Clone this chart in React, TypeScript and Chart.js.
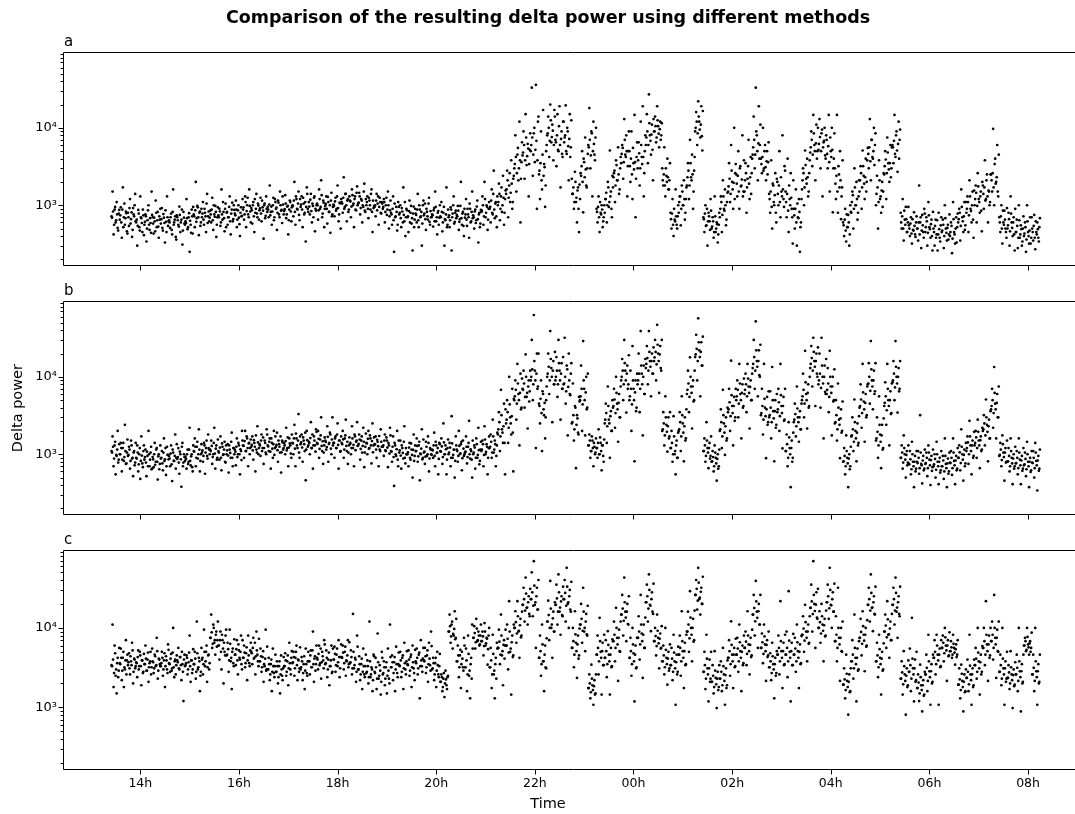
import React, { useEffect, useRef } from "react";
import { Chart, registerables } from "chart.js";

Chart.register(...registerables);

// Recording starts at 13:25. Each series holds one value every 1.25 minutes;
// the second series of a panel is sampled half an epoch later (interleaved epochs).
const START_HOUR = 13 + 25 / 60;
const EPOCH_MINUTES = 1.25;

// Panel a, epochs 1
const deltaA1 = [
  720, 1500, 420, 880, 600, 1100, 510, 780,
  650, 940, 380, 1700, 700, 560, 830, 460,
  800, 540, 1200, 660, 390, 920, 720, 1400,
  600, 300, 870, 520, 1300, 680, 450, 740,
  560, 760, 340, 640, 1000, 480, 590, 1500,
  700, 430, 620, 1150, 520, 820, 380, 650,
  580, 920, 470, 690, 330, 610, 1300, 540,
  640, 510, 780, 420, 1600, 600, 720, 360,
  700, 560, 960, 450, 650, 310, 820, 580,
  620, 1200, 490, 700, 250, 560, 880, 430,
  760, 520, 2000, 680, 940, 410, 830, 600,
  700, 1100, 560, 800, 450, 1400, 720, 620,
  850, 600, 1250, 480, 760, 980, 390, 700,
  740, 900, 540, 1600, 650, 820, 460, 1050,
  800, 560, 700, 1300, 420, 880, 620, 1000,
  780, 1150, 520, 860, 690, 400, 940, 730,
  880, 650, 1300, 520, 1000, 760, 1600, 830,
  920, 580, 1100, 450, 800, 1400, 700, 990,
  860, 1250, 620, 940, 370, 1050, 730, 900,
  950, 700, 1800, 820, 560, 1000, 640, 1200,
  900, 480, 1150, 760, 1500, 850, 590, 1020,
  840, 1350, 680, 960, 420, 880, 1100, 620,
  1000, 720, 2000, 560, 1200, 880, 1500, 640,
  950, 1300, 520, 1050, 800, 340, 1700, 900,
  1100, 760, 1400, 600, 980, 1250, 460, 850,
  1050, 650, 1600, 900, 2100, 700, 1150, 520,
  980, 1300, 580, 1100, 820, 440, 1450, 760,
  1020, 720, 1250, 900, 1800, 620, 1080, 500,
  1100, 800, 2300, 950, 1400, 620, 1200, 880,
  1150, 700, 1600, 1000, 520, 1300, 860, 1750,
  1050, 1450, 760, 1200, 600, 950, 1900, 820,
  1000, 1300, 680, 1150, 880, 1600, 450, 920,
  950, 720, 1400, 1050, 560, 1250, 800, 1100,
  900, 1200, 600, 1000, 750, 1500, 500, 860,
  800, 560, 1300, 250, 700, 950, 470, 1100,
  760, 1000, 520, 830, 1700, 620, 400, 900,
  700, 450, 1150, 800, 580, 260, 960, 650,
  780, 600, 1400, 520, 880, 720, 300, 1000,
  740, 1050, 480, 820, 650, 1250, 560, 700,
  760, 530, 920, 1500, 620, 420, 840, 690,
  720, 1100, 460, 800, 300, 640, 1700, 560,
  700, 520, 940, 260, 780, 1300, 610, 850,
  750, 980, 480, 660, 2000, 560, 820, 400,
  690, 1200, 540, 760, 380, 900, 620, 1500,
  740, 500, 880, 640, 1150, 330, 800, 580,
  820, 1300, 560, 2000, 700, 1000, 480, 900,
  900, 600, 1600, 760, 2800, 680, 1100, 520,
  1000, 1900, 640, 1300, 820, 2400, 560, 1200,
  1400, 2800, 700, 1800, 1100, 3800, 900, 2200,
  3000, 8000, 1500, 4500, 2100, 12000, 600, 3600,
  4400, 9000, 2200, 15000, 3300, 6200, 1300, 5200,
  5000, 33000, 2400, 8500, 3600, 36000, 900, 12000,
  2500, 1200, 9000, 1600, 17000, 3400, 950, 5000,
  8000, 14000, 4200, 20000, 6500, 11000, 3800, 17000,
  7000, 3200, 15000, 5000, 19000, 1700, 9000, 4200,
  12000, 7500, 19500, 4600, 9000, 2100, 15000, 5600,
  2200, 1400, 900, 2700, 1100, 600, 1700, 450,
  1200, 2400, 5000, 810, 3600, 7500, 1800, 3000,
  6000, 18000, 3000, 9000, 1300, 12000, 4500, 7500,
  900, 600, 1300, 450, 800, 1000, 520, 700,
  800, 1200, 600, 2000, 950, 5100, 1500, 700,
  1700, 2600, 1100, 3800, 2100, 5600, 1400, 3000,
  3500, 6000, 2200, 13000, 4500, 8000, 1300, 5000,
  5000, 2000, 9000, 1200, 3500, 14700, 700, 4200,
  3000, 6500, 1800, 12000, 4200, 19000, 1300, 5000,
  6000, 15000, 3500, 27000, 8000, 4500, 11000, 2100,
  9000, 14000, 6500, 19000, 10500, 5600, 12000, 8000,
  3000, 1800, 5600, 1300, 2400, 4000, 1600, 2100,
  800, 500, 1200, 400, 650, 1600, 560, 720,
  800, 1300, 550, 1800, 1000, 2100, 650, 1200,
  1800, 3500, 1200, 7000, 2300, 4500, 900, 2800,
  9000, 16000, 6000, 22000, 12000, 7500, 19000, 5100,
  700, 450, 1000, 550, 300, 800, 620, 1200,
  500, 700, 380, 1300, 450, 600, 330, 560,
  700, 1300, 450, 2100, 900, 1600, 550, 1100,
  1500, 3500, 1100, 6000, 2000, 900, 10000, 2600,
  2500, 1300, 5000, 900, 3200, 1800, 8000, 1500,
  1500, 3500, 800, 2200, 7000, 1200, 4200, 2600,
  4500, 14000, 3000, 33000, 8000, 2100, 19000, 6000,
  4000, 2600, 10000, 3000, 6000, 2100, 5000, 3600,
  1400, 800, 3800, 500, 1800, 1000, 2600, 600,
  2000, 1000, 5000, 700, 1500, 8000, 1200, 3200,
  1500, 700, 4000, 450, 1200, 2600, 900, 320,
  900, 500, 1600, 300, 700, 1200, 250, 600,
  1600, 3000, 1000, 5100, 2200, 4000, 1300, 2600,
  4800, 9000, 3200, 14700, 6000, 2100, 11000, 5000,
  5200, 13000, 3000, 8500, 1300, 6500, 10000, 4000,
  7000, 3000, 14700, 1500, 5000, 10000, 810, 4000,
  3000, 1200, 14700, 800, 2500, 5000, 660, 1700,
  600, 400, 900, 340, 520, 750, 300, 1000,
  800, 1500, 500, 3000, 1000, 2000, 650, 1300,
  1500, 3200, 900, 5100, 2400, 1200, 4000, 2000,
  5500, 3000, 13000, 2100, 7000, 4000, 10000, 6000,
  1000, 2400, 500, 3800, 1200, 800, 2000, 1500,
  2500, 5000, 1200, 7500, 3500, 2000, 6000, 3000,
  6000, 3500, 14700, 4200, 9000, 2700, 12000, 7000,
  800, 500, 1200, 350, 650, 950, 450, 600,
  550, 400, 700, 320, 480, 810, 420, 600,
  500, 350, 1800, 600, 280, 750, 450, 900,
  450, 700, 300, 1100, 520, 380, 650, 260,
  500, 300, 650, 420, 260, 800, 380, 550,
  450, 650, 280, 1000, 500, 350, 560, 420,
  400, 600, 240, 1100, 450, 320, 700, 520,
  600, 900, 350, 1600, 700, 450, 1100, 550,
  800, 1300, 450, 2100, 900, 600, 1500, 380,
  1000, 1800, 600, 2600, 1200, 800, 1500, 460,
  1800, 900, 3800, 1200, 2500, 600, 1500, 1100,
  2500, 1500, 9700, 1000, 4000, 2000, 6000, 1300,
  700, 450, 1000, 320, 600, 850, 500, 380,
  500, 800, 300, 1300, 600, 400, 700, 260,
  450, 650, 280, 1000, 380, 550, 300, 500,
  400, 600, 250, 1000, 450, 320, 700, 380,
  500, 350, 750, 270, 450, 600, 380, 520,
];

// Panel a, epochs 2
const deltaA2 = [
  690, 830, 560, 950, 640, 760, 470, 870,
  740, 600, 880, 520, 1050, 680, 790, 430,
  700, 920, 580, 810, 480, 760, 1000, 620,
  650, 540, 780, 470, 700, 590, 880, 410,
  610, 720, 500, 860, 560, 680, 440, 750,
  580, 690, 460, 800, 640, 530, 720, 900,
  660, 510, 770, 590, 860, 450, 700, 620,
  600, 700, 480, 820, 560, 650, 390, 740,
  640, 530, 750, 600, 880, 470, 690, 560,
  590, 680, 520, 790, 630, 440, 720, 950,
  720, 860, 610, 980, 700, 800, 540, 900,
  780, 650, 900, 720, 1050, 590, 830, 690,
  760, 880, 640, 1000, 710, 820, 560, 940,
  700, 830, 600, 760, 1100, 680, 900, 520,
  820, 700, 950, 620, 780, 1080, 660, 870,
  740, 880, 650, 1000, 570, 800, 720, 1200,
  940, 760, 1100, 840, 1250, 700, 980, 600,
  860, 1000, 720, 1200, 900, 780, 1050, 650,
  910, 780, 1150, 850, 1000, 680, 1300, 820,
  880, 1020, 740, 960, 830, 1250, 700, 1100,
  930, 800, 1080, 700, 1000, 870, 1300, 760,
  890, 1050, 760, 980, 640, 1150, 830, 940,
  980, 1150, 820, 1300, 900, 1050, 750, 1200,
  1020, 880, 1250, 760, 1100, 950, 1400, 820,
  960, 1180, 840, 1050, 700, 1300, 900, 1000,
  1000, 860, 1200, 950, 1350, 780, 1080, 900,
  1040, 900, 1280, 820, 1000, 1150, 720, 950,
  980, 1120, 850, 1300, 920, 760, 1060, 1200,
  1050, 1250, 900, 1400, 1000, 1150, 820, 1300,
  1120, 960, 1350, 1050, 1200, 880, 1450, 1000,
  1080, 1300, 920, 1150, 1000, 1500, 850, 1200,
  1100, 900, 1250, 1000, 1400, 820, 1150, 980,
  1000, 1150, 860, 1300, 950, 1100, 780, 1050,
  950, 1100, 820, 1250, 880, 1000, 720, 1150,
  760, 900, 640, 1050, 720, 820, 560, 950,
  800, 680, 920, 600, 750, 1100, 700, 860,
  720, 840, 600, 980, 680, 780, 520, 900,
  750, 880, 640, 1000, 700, 820, 580, 1150,
  780, 660, 900, 720, 1050, 610, 840, 700,
  740, 860, 620, 950, 700, 800, 560, 1000,
  700, 820, 600, 950, 660, 760, 520, 880,
  740, 640, 880, 700, 1000, 580, 800, 680,
  720, 850, 610, 980, 680, 780, 540, 900,
  760, 650, 900, 700, 1050, 600, 820, 680,
  700, 830, 590, 960, 660, 760, 520, 870,
  850, 1000, 720, 1200, 800, 950, 650, 1100,
  950, 1150, 800, 1400, 880, 1050, 720, 1300,
  1100, 1400, 900, 1700, 1000, 1250, 800, 1550,
  1600, 2100, 1250, 2600, 1450, 1900, 1100, 2400,
  3400, 4200, 2600, 5500, 3000, 3800, 2200, 6500,
  4800, 6000, 3800, 7500, 4300, 5400, 3400, 8500,
  6000, 7500, 4500, 10000, 5200, 6800, 3800, 14000,
  2800, 3500, 2100, 4500, 2400, 3100, 1800, 6000,
  8500, 10000, 6800, 12500, 7600, 9200, 6000, 14000,
  6500, 8000, 5200, 10500, 6000, 7200, 4600, 12000,
  6500, 8000, 5000, 10000, 5800, 7200, 4200, 12500,
  1400, 1700, 1100, 2000, 1250, 1550, 900, 1850,
  2600, 3200, 2000, 4000, 2300, 2900, 1700, 4600,
  5600, 7000, 4400, 8500, 5000, 6200, 3800, 10000,
  820, 950, 700, 1100, 760, 880, 620, 1000,
  1200, 1450, 1000, 1700, 1100, 1300, 900, 2400,
  2300, 2800, 1800, 3300, 2100, 2500, 1600, 4200,
  4600, 5500, 3600, 7000, 4200, 5000, 3200, 9000,
  3200, 4000, 2500, 5500, 2900, 3600, 2200, 6500,
  3800, 4700, 3000, 6000, 3400, 4200, 2600, 8000,
  7500, 9000, 6000, 11500, 6800, 8200, 5200, 13000,
  9000, 10500, 7500, 12500, 8400, 9600, 7000, 11500,
  2100, 2500, 1800, 3000, 2000, 2300, 1600, 3500,
  660, 780, 560, 900, 620, 720, 500, 1000,
  1100, 1300, 900, 1500, 1000, 1200, 800, 1700,
  2300, 2800, 1800, 3500, 2100, 2500, 1500, 4200,
  10000, 12000, 8500, 14000, 9500, 11000, 7800, 16500,
  660, 780, 540, 900, 620, 720, 480, 850,
  530, 620, 450, 720, 500, 570, 420, 800,
  900, 1100, 750, 1300, 850, 1000, 650, 1450,
  1750, 2200, 1400, 2800, 1600, 1950, 1200, 3400,
  1900, 2400, 1500, 3000, 1750, 2150, 1300, 3800,
  2100, 2600, 1700, 3200, 1900, 2300, 1400, 4000,
  5600, 7000, 4500, 9000, 5000, 6300, 4000, 11000,
  3400, 4200, 2800, 5000, 3100, 3700, 2500, 6500,
  1200, 1500, 950, 1900, 1100, 1350, 800, 2200,
  1400, 1800, 1100, 2300, 1300, 1600, 950, 2800,
  1100, 1400, 850, 1800, 1000, 1250, 700, 2100,
  740, 900, 600, 1050, 680, 820, 520, 1200,
  2100, 2600, 1700, 3300, 1900, 2300, 1500, 3800,
  5600, 7000, 4500, 8500, 5000, 6300, 4000, 10000,
  6200, 7600, 5000, 9500, 5600, 6800, 4400, 8000,
  4600, 5800, 3600, 7500, 4200, 5200, 3000, 8500,
  1900, 2400, 1500, 3200, 1700, 2100, 1300, 3800,
  550, 650, 470, 760, 520, 600, 420, 820,
  1100, 1350, 900, 1700, 1000, 1200, 800, 2100,
  2100, 2600, 1700, 3200, 1900, 2300, 1500, 3800,
  4600, 5600, 3700, 7000, 4200, 5000, 3300, 8500,
  1400, 1700, 1100, 2100, 1300, 1550, 950, 2600,
  3200, 3900, 2600, 4800, 2900, 3500, 2300, 5600,
  5600, 6800, 4600, 8000, 5100, 6200, 4000, 9500,
  600, 720, 500, 850, 560, 660, 450, 950,
  500, 580, 430, 660, 470, 540, 390, 720,
  500, 600, 420, 700, 470, 550, 380, 780,
  520, 620, 440, 740, 490, 570, 400, 820,
  450, 540, 380, 640, 420, 490, 340, 700,
  470, 560, 400, 680, 440, 510, 360, 760,
  450, 540, 370, 660, 420, 500, 330, 780,
  660, 800, 540, 950, 620, 720, 480, 1100,
  900, 1100, 740, 1300, 840, 1000, 650, 1550,
  1200, 1450, 980, 1750, 1100, 1300, 850, 2000,
  1400, 1700, 1150, 2100, 1300, 1550, 1000, 2500,
  2100, 2600, 1700, 3400, 1900, 2300, 1500, 4500,
  600, 720, 500, 850, 560, 650, 450, 920,
  550, 660, 460, 780, 510, 600, 420, 900,
  450, 540, 380, 640, 420, 490, 340, 720,
  430, 520, 360, 620, 400, 470, 320, 700,
  450, 540, 380, 620, 420, 490, 340, 680,
];

// Panel b, epochs 1
const deltaB1 = [
  1100, 1700, 700, 1300, 550, 950, 2000, 850,
  1000, 1400, 600, 1200, 820, 2400, 750, 1050,
  950, 1250, 650, 1500, 880, 520, 1100, 780,
  900, 1300, 600, 1000, 480, 1700, 760, 1100,
  850, 1150, 520, 950, 2000, 700, 1050, 640,
  920, 680, 1400, 800, 1200, 470, 1000, 750,
  880, 1100, 620, 1600, 860, 540, 1250, 980,
  950, 700, 1300, 450, 1050, 820, 1800, 900,
  870, 1200, 560, 1000, 380, 1400, 780, 920,
  930, 650, 1150, 800, 2200, 720, 1000, 600,
  1100, 1600, 700, 1250, 880, 2100, 600, 1000,
  1050, 800, 1400, 560, 1200, 950, 1800, 1150,
  1150, 1500, 750, 1000, 2200, 650, 1300, 900,
  1100, 850, 1700, 620, 1250, 1000, 1450, 780,
  1000, 1350, 580, 1150, 900, 1900, 700, 1200,
  1150, 720, 1600, 1000, 1300, 550, 1100, 2000,
  1300, 900, 2000, 1100, 1600, 700, 1400, 1200,
  1250, 1700, 850, 1400, 600, 1150, 2300, 1000,
  1350, 950, 1800, 1200, 750, 1500, 1050, 2100,
  1300, 1100, 1600, 650, 1400, 900, 2000, 1200,
  1250, 1900, 800, 1350, 1050, 580, 1500, 1150,
  1400, 1000, 2200, 1200, 700, 1600, 1300, 900,
  1400, 1000, 2400, 700, 1600, 1200, 3300, 900,
  1350, 1800, 800, 1500, 1100, 460, 2000, 1250,
  1450, 1000, 2600, 1200, 650, 1700, 1300, 2100,
  1400, 2000, 900, 1550, 3000, 1100, 750, 1300,
  1500, 1150, 2300, 800, 1400, 1800, 1000, 3000,
  1400, 900, 1700, 1200, 2500, 650, 1500, 1100,
  1400, 2000, 900, 1600, 2800, 1100, 750, 1300,
  1350, 1000, 2300, 1200, 700, 1700, 1450, 2600,
  1300, 1800, 850, 1500, 1050, 2200, 680, 1250,
  1400, 1000, 2000, 1200, 1600, 760, 2500, 1300,
  1350, 1700, 900, 1450, 700, 1150, 2100, 1250,
  1250, 950, 1800, 1100, 1500, 680, 1300, 2200,
  1100, 800, 1700, 390, 1300, 950, 2000, 700,
  1050, 1500, 650, 1200, 880, 2300, 760, 1000,
  1000, 700, 1400, 850, 1150, 500, 1800, 950,
  1100, 1600, 800, 1300, 460, 1000, 2100, 900,
  1050, 750, 1450, 950, 1700, 600, 1200, 1000,
  1150, 900, 1900, 700, 1300, 1050, 550, 1400,
  1100, 1600, 750, 2500, 1000, 1300, 550, 1200,
  1000, 1400, 700, 3100, 900, 1150, 500, 1700,
  1150, 800, 2000, 1000, 1350, 620, 1500, 950,
  1050, 1700, 760, 1250, 2700, 880, 1100, 500,
  1000, 1300, 650, 1600, 900, 2200, 740, 1150,
  1100, 1500, 700, 2300, 1000, 1350, 550, 1200,
  1200, 1800, 900, 2800, 1050, 1500, 700, 1300,
  1800, 3500, 1100, 6800, 2100, 1400, 4500, 550,
  2500, 5000, 1400, 10000, 3000, 1800, 7000, 600,
  5000, 9000, 2800, 14700, 6000, 1300, 11000, 4000,
  7000, 12000, 4000, 19500, 5500, 2150, 9000, 6500,
  9000, 30000, 5000, 63000, 12000, 1200, 20000, 7500,
  4500, 2500, 9000, 1100, 6000, 3200, 1600, 5000,
  10000, 20000, 6000, 39000, 13000, 2600, 16000, 8000,
  9000, 18000, 5500, 30000, 12000, 2800, 15000, 7000,
  8000, 32000, 4500, 14000, 1750, 20000, 6000, 11000,
  2500, 8200, 1500, 4200, 660, 3200, 1900, 5500,
  5000, 14000, 2000, 29000, 7000, 1750, 10000, 4000,
  1300, 1800, 900, 1100, 1500, 700, 1250, 1050,
  1200, 900, 2100, 1000, 1400, 620, 1300, 800,
  2500, 4500, 1400, 7500, 2800, 900, 3600, 2000,
  4000, 7000, 2200, 10000, 4500, 1450, 6000, 3000,
  9000, 17000, 5000, 30000, 12000, 3450, 14000, 8000,
  5000, 12000, 2000, 25000, 7000, 810, 9000, 4000,
  8000, 20000, 3500, 39000, 11000, 1750, 14000, 6000,
  13000, 25000, 8000, 39000, 16000, 5600, 20000, 11000,
  16000, 30000, 9000, 47000, 20000, 6200, 25000, 12000,
  2000, 3500, 1300, 5600, 2400, 1080, 3000, 1700,
  1200, 2000, 800, 3100, 1000, 550, 1500, 900,
  2000, 3500, 1100, 5600, 2500, 810, 3000, 1600,
  6000, 12000, 3500, 17900, 7500, 2150, 9000, 5000,
  18000, 35000, 9000, 57000, 22000, 5600, 28000, 14000,
  1100, 1600, 800, 2600, 1200, 660, 1400, 950,
  800, 1100, 600, 1300, 900, 455, 1000, 700,
  2000, 3800, 1200, 6800, 2500, 980, 3000, 1600,
  3500, 7000, 2000, 16200, 4200, 1300, 5500, 3000,
  5000, 9000, 3000, 14700, 6000, 1600, 8000, 4200,
  6000, 11000, 3500, 14700, 7500, 2150, 9000, 5000,
  13000, 30000, 7000, 52000, 16000, 5600, 22000, 10000,
  3200, 7000, 1800, 14700, 4000, 890, 5500, 2600,
  3000, 6500, 1600, 13400, 3600, 810, 5000, 2400,
  3500, 7000, 2000, 14700, 4200, 1190, 5500, 2800,
  1100, 1800, 700, 2600, 1200, 375, 1500, 900,
  2600, 4500, 1700, 7500, 3000, 1450, 3600, 2100,
  5000, 11000, 3000, 21700, 6000, 2150, 8000, 4200,
  13000, 25000, 7500, 32000, 16000, 4200, 20000, 10000,
  8000, 20000, 4000, 32000, 10000, 1600, 14000, 6000,
  6000, 13000, 3500, 21700, 7500, 1750, 10000, 5000,
  2500, 5000, 1500, 8200, 2800, 890, 3800, 2000,
  800, 1200, 550, 1750, 900, 375, 1000, 700,
  1700, 3000, 1100, 5100, 2000, 810, 2500, 1400,
  4000, 8000, 2200, 14700, 4800, 1450, 6000, 3200,
  8000, 15000, 4500, 29000, 9000, 3800, 12000, 6500,
  1500, 3000, 900, 5600, 1800, 660, 2400, 1200,
  4200, 8500, 2400, 14700, 5000, 1300, 6500, 3400,
  8500, 16000, 5000, 29000, 10000, 3450, 13000, 7000,
  900, 1300, 650, 1750, 1000, 500, 1100, 780,
  750, 1100, 550, 1450, 800, 375, 950, 650,
  800, 1100, 560, 3200, 750, 420, 950, 650,
  750, 1050, 520, 1300, 850, 400, 950, 680,
  700, 1000, 500, 1450, 800, 410, 900, 620,
  700, 950, 480, 1600, 750, 375, 880, 600,
  780, 1100, 540, 1600, 820, 410, 950, 650,
  900, 1300, 620, 2100, 1000, 455, 1150, 760,
  1100, 1700, 750, 2700, 1300, 550, 1500, 950,
  1300, 2000, 900, 2800, 1500, 660, 1700, 1150,
  2000, 3200, 1300, 5100, 2400, 810, 2800, 1600,
  3800, 7000, 2200, 13400, 4500, 1600, 6000, 3000,
  950, 1400, 700, 1750, 1050, 455, 1200, 800,
  800, 1200, 600, 1600, 900, 410, 1000, 700,
  760, 1100, 550, 1600, 850, 410, 950, 650,
  720, 1050, 520, 1450, 800, 375, 900, 620,
  780, 1100, 500, 1400, 820, 340, 950, 650,
];

// Panel b, epochs 2
const deltaB2 = [
  1050, 1250, 880, 1450, 980, 1150, 780, 1350,
  1000, 1200, 850, 1400, 920, 1100, 760, 1550,
  980, 1150, 820, 1300, 900, 1050, 720, 1400,
  880, 1050, 740, 1200, 820, 960, 680, 1300,
  920, 780, 1080, 700, 1000, 850, 1250, 650,
  860, 1000, 730, 1150, 800, 940, 640, 1300,
  900, 760, 1050, 820, 1200, 700, 980, 860,
  880, 1020, 740, 1150, 820, 950, 650, 1350,
  920, 780, 1080, 860, 1250, 700, 1000, 820,
  870, 1000, 750, 1150, 820, 940, 680, 1300,
  1080, 1250, 900, 1450, 1000, 1150, 820, 1350,
  1120, 950, 1300, 1050, 1500, 880, 1200, 1000,
  1100, 1280, 920, 1400, 1020, 1180, 850, 1550,
  1050, 1220, 900, 1380, 980, 1150, 800, 1300,
  1120, 960, 1300, 1040, 1450, 900, 1200, 1000,
  1080, 1250, 920, 1400, 1000, 1160, 840, 1500,
  1280, 1480, 1100, 1700, 1200, 1380, 1000, 1550,
  1320, 1120, 1520, 1250, 1750, 1050, 1420, 1200,
  1300, 1500, 1100, 1650, 1200, 1400, 1000, 1800,
  1260, 1450, 1080, 1600, 1180, 1350, 980, 1700,
  1320, 1130, 1500, 1250, 1700, 1060, 1420, 1200,
  1300, 1480, 1120, 1650, 1220, 1380, 1020, 1800,
  1380, 1600, 1180, 1850, 1300, 1500, 1050, 1700,
  1420, 1220, 1650, 1350, 1900, 1150, 1520, 1300,
  1400, 1620, 1200, 1800, 1300, 1500, 1080, 1950,
  1360, 1580, 1170, 1750, 1280, 1470, 1050, 1650,
  1440, 1240, 1680, 1360, 1900, 1180, 1550, 1300,
  1400, 1600, 1200, 1800, 1320, 1500, 1080, 1700,
  1350, 1560, 1150, 1750, 1280, 1450, 1050, 1650,
  1400, 1200, 1600, 1320, 1800, 1130, 1500, 1280,
  1360, 1550, 1170, 1700, 1280, 1450, 1050, 1850,
  1380, 1580, 1180, 1750, 1300, 1480, 1060, 1650,
  1340, 1150, 1540, 1270, 1720, 1100, 1450, 1250,
  1300, 1500, 1120, 1650, 1220, 1400, 1020, 1750,
  1080, 1250, 920, 1400, 1000, 1160, 850, 1500,
  1120, 960, 1300, 1040, 1450, 900, 1200, 1000,
  1060, 1220, 900, 1380, 980, 1140, 820, 1300,
  1100, 1280, 940, 1450, 1020, 1180, 860, 1550,
  1080, 930, 1250, 1000, 1400, 880, 1150, 980,
  1120, 1300, 950, 1450, 1040, 1200, 870, 1350,
  1080, 1260, 920, 1420, 1000, 1160, 850, 1550,
  1050, 1220, 900, 1380, 980, 1140, 820, 1300,
  1100, 950, 1280, 1030, 1450, 890, 1180, 1000,
  1080, 1250, 920, 1400, 1000, 1160, 850, 1500,
  1050, 1220, 900, 1350, 980, 1130, 820, 1450,
  1150, 1350, 980, 1550, 1070, 1250, 900, 1700,
  1250, 1450, 1050, 1700, 1150, 1350, 950, 1900,
  2100, 2600, 1700, 3200, 1900, 2300, 1400, 3800,
  2800, 3500, 2200, 4400, 2500, 3100, 1900, 5200,
  5600, 6800, 4500, 8200, 5000, 6200, 3800, 9500,
  6800, 8200, 5500, 10000, 6200, 7500, 4800, 12000,
  10000, 12500, 8000, 16000, 9000, 11000, 7000, 20000,
  4200, 5200, 3400, 6500, 3800, 4600, 3000, 7500,
  11000, 13500, 9000, 17000, 10000, 12000, 8000, 21000,
  10000, 12000, 8000, 15000, 9000, 11000, 7000, 18000,
  8200, 10000, 6500, 12500, 7400, 9000, 5800, 15000,
  2600, 3200, 2100, 4000, 2400, 2900, 1800, 4800,
  5600, 7000, 4400, 9000, 5000, 6300, 3800, 11000,
  1300, 1500, 1100, 1700, 1200, 1400, 1000, 1600,
  1200, 1400, 1000, 1650, 1100, 1300, 950, 1550,
  2800, 3400, 2300, 4200, 2500, 3100, 2000, 5000,
  4200, 5100, 3400, 6200, 3800, 4600, 3000, 7500,
  10000, 12000, 8000, 15000, 9000, 11000, 7000, 19000,
  5600, 7000, 4400, 9000, 5000, 6300, 3600, 11000,
  9000, 11000, 7000, 14000, 8000, 10000, 6000, 17000,
  14700, 17500, 12000, 21000, 13500, 16000, 11000, 24000,
  17800, 21000, 14500, 26000, 16000, 19500, 13000, 30000,
  2100, 2500, 1750, 3000, 1950, 2300, 1600, 3500,
  1200, 1400, 1000, 1700, 1100, 1300, 900, 1900,
  2100, 2600, 1700, 3200, 1900, 2300, 1500, 3800,
  6800, 8200, 5500, 10000, 6200, 7500, 4800, 12000,
  19500, 23000, 16000, 28000, 18000, 21000, 14000, 33000,
  1100, 1300, 950, 1500, 1050, 1200, 880, 1700,
  810, 920, 700, 1050, 760, 870, 650, 1150,
  2100, 2600, 1700, 3200, 1900, 2300, 1500, 4000,
  3800, 4700, 3100, 5800, 3400, 4200, 2700, 7000,
  5600, 6800, 4500, 8200, 5000, 6200, 4000, 9500,
  6800, 8000, 5600, 9500, 6200, 7400, 5000, 11000,
  14700, 18000, 12000, 22000, 13500, 16000, 10500, 26000,
  3400, 4200, 2800, 5200, 3100, 3800, 2400, 6500,
  3200, 4000, 2600, 5000, 2900, 3600, 2200, 6000,
  3800, 4700, 3100, 5800, 3400, 4200, 2700, 7000,
  1100, 1350, 900, 1650, 1000, 1200, 800, 1900,
  2800, 3300, 2300, 3900, 2600, 3000, 2100, 4500,
  5600, 6800, 4500, 8500, 5000, 6200, 4000, 10000,
  14700, 17500, 12000, 21000, 13500, 16000, 11000, 24000,
  9000, 11000, 7200, 14000, 8200, 10000, 6400, 17000,
  6800, 8200, 5500, 10000, 6200, 7500, 4800, 12500,
  2600, 3200, 2100, 4000, 2400, 2900, 1900, 4800,
  810, 950, 700, 1100, 760, 880, 640, 1250,
  1750, 2100, 1450, 2600, 1600, 1900, 1300, 3100,
  4200, 5100, 3400, 6300, 3800, 4600, 3000, 7500,
  8200, 10000, 6600, 12500, 7500, 9000, 6000, 15000,
  1600, 1950, 1300, 2400, 1450, 1750, 1150, 2900,
  4600, 5600, 3700, 7000, 4200, 5000, 3300, 8200,
  9000, 11000, 7300, 13500, 8200, 10000, 6500, 16000,
  900, 1050, 780, 1200, 850, 980, 720, 1300,
  740, 860, 640, 1000, 700, 800, 600, 1100,
  770, 900, 660, 1050, 720, 830, 620, 1150,
  770, 900, 660, 1050, 720, 840, 610, 1150,
  740, 870, 630, 1000, 700, 800, 580, 1100,
  700, 830, 600, 950, 660, 760, 560, 1050,
  770, 900, 660, 1050, 720, 830, 620, 1200,
  900, 1060, 770, 1250, 850, 980, 700, 1400,
  1200, 1420, 1000, 1700, 1100, 1300, 900, 1950,
  1400, 1650, 1200, 1950, 1300, 1520, 1100, 2200,
  2100, 2500, 1750, 3000, 1950, 2300, 1600, 3600,
  4200, 5000, 3400, 6200, 3800, 4600, 3000, 7500,
  980, 1150, 840, 1350, 920, 1050, 780, 1500,
  810, 950, 700, 1100, 760, 880, 650, 1250,
  770, 900, 660, 1050, 720, 830, 610, 1200,
  740, 870, 640, 1000, 700, 800, 590, 1100,
  770, 900, 660, 1050, 720, 830, 610, 1150,
];

// Panel c, epochs 1
const deltaC1 = [
  3400, 11000, 1800, 6000, 2500, 1500, 4200, 2900,
  3600, 5500, 2200, 4200, 1800, 3000, 7000, 3900,
  3400, 4800, 2600, 3800, 6500, 2000, 4100, 3100,
  3700, 2400, 5200, 3300, 4500, 1900, 3900, 2800,
  3500, 6000, 2900, 4000, 2100, 3600, 5000, 3200,
  3800, 2700, 4600, 3300, 7500, 2300, 4100, 3500,
  3300, 5000, 2500, 3900, 1800, 4400, 3000, 6200,
  3600, 2800, 4700, 3100, 10000, 2400, 4000, 3400,
  3900, 5600, 3000, 4300, 2200, 3500, 1200, 4600,
  3400, 4500, 2600, 3700, 8000, 2100, 3900, 3000,
  3500, 5000, 2300, 12000, 3000, 4200, 1600, 2800,
  4000, 2600, 9500, 3300, 5000, 2100, 4500, 3000,
  7500, 14700, 5600, 11000, 6500, 4600, 9000, 7000,
  6000, 4000, 9000, 3000, 7000, 2000, 5000, 8000,
  4500, 6500, 2800, 9500, 3800, 1700, 5500, 3300,
  4600, 3400, 7000, 2600, 5200, 4000, 8000, 3000,
  4200, 6000, 3200, 4800, 2200, 8000, 3600, 5200,
  5000, 3500, 7500, 4200, 2600, 9000, 4600, 3300,
  3800, 5500, 2800, 4300, 2100, 3300, 9500, 3000,
  3000, 4200, 2200, 3500, 1600, 5500, 2700, 3300,
  2800, 3800, 2000, 3300, 1500, 4500, 2500, 3100,
  3300, 4800, 2500, 3800, 1900, 6500, 3000, 4200,
  3600, 5000, 2500, 4200, 6000, 2200, 3900, 3100,
  3000, 4300, 2200, 3500, 1700, 5500, 2700, 3800,
  3800, 2600, 5200, 3200, 9000, 2100, 4400, 3500,
  4200, 3000, 6000, 3600, 2300, 5000, 3900, 7000,
  3500, 5200, 2400, 4000, 1900, 3300, 6000, 2800,
  4000, 5800, 2800, 4600, 3300, 7000, 2400, 4300,
  4300, 6000, 3000, 5000, 2500, 3800, 7000, 3500,
  3600, 5200, 2600, 15000, 3100, 4200, 2100, 8000,
  3000, 4400, 2200, 3500, 1700, 5500, 2600, 3300,
  2700, 3900, 2000, 12000, 2400, 3200, 1600, 4600,
  2800, 4200, 1700, 8500, 2300, 3400, 1450, 5000,
  2600, 3800, 1900, 3200, 1500, 5500, 2300, 11000,
  3200, 4500, 2200, 3700, 1600, 5800, 2700, 3500,
  3400, 5000, 2400, 4200, 1700, 6500, 3000, 3800,
  3500, 5200, 2500, 4300, 1800, 6000, 3100, 2200,
  3800, 5500, 2600, 4600, 1300, 7000, 3300, 4100,
  3900, 5600, 2700, 4500, 2100, 6500, 3400, 9000,
  3000, 4200, 2200, 3600, 1800, 5000, 2600, 3300,
  2100, 2600, 1600, 2300, 1350, 2900, 1900, 2400,
  9000, 14700, 6500, 11000, 5500, 8000, 16200, 7500,
  3800, 6000, 2400, 4500, 1750, 5000, 3200, 7500,
  3200, 5500, 1600, 8000, 2500, 1300, 4200, 11000,
  7500, 10500, 5500, 13000, 6800, 9000, 6000, 8000,
  6800, 9000, 4500, 11500, 6000, 7500, 3450, 8000,
  3200, 5600, 1750, 8200, 2600, 1300, 4200, 6500,
  5600, 9500, 3500, 14700, 4500, 1900, 7000, 6000,
  6000, 11000, 3000, 21700, 5000, 1450, 8000, 4500,
  10000, 16200, 6500, 21700, 9000, 4200, 13000, 8000,
  19500, 32000, 12000, 43000, 17900, 11000, 25000, 14000,
  23000, 50000, 14000, 69000, 19500, 5600, 32000, 17000,
  4200, 8000, 2500, 11000, 3800, 1600, 6000, 3100,
  12000, 22000, 7000, 39000, 10000, 4200, 16000, 9000,
  19500, 35000, 11000, 47000, 16000, 8200, 25000, 14000,
  23000, 40000, 12000, 57000, 20000, 10000, 30000, 16000,
  5600, 10000, 3200, 16200, 6500, 2350, 8000, 4500,
  11000, 20000, 6500, 32000, 9000, 5100, 15000, 8000,
  1750, 2600, 1300, 3450, 1900, 1080, 2200, 1500,
  4600, 8000, 2600, 13400, 5000, 1450, 6500, 3400,
  4200, 7000, 2400, 9100, 4600, 1450, 5600, 3300,
  6800, 12000, 3800, 17900, 7500, 2150, 9500, 5000,
  14700, 26000, 8000, 43000, 16000, 6800, 20000, 11000,
  4200, 7500, 2500, 10000, 4800, 1190, 6000, 3200,
  7500, 14000, 4000, 26000, 8500, 2350, 11000, 5600,
  21000, 35000, 12000, 47000, 19500, 9100, 28000, 15000,
  6800, 10000, 4500, 14700, 7500, 3100, 8500, 5600,
  3800, 6000, 2600, 10000, 4200, 1930, 5000, 3100,
  3400, 5600, 2200, 8200, 3800, 1080, 4600, 2800,
  4600, 8000, 2500, 16200, 5100, 1750, 6500, 3500,
  9000, 16000, 5000, 29000, 10000, 3800, 13000, 7000,
  26000, 40000, 17000, 57000, 23000, 14700, 32000, 20000,
  2800, 5000, 1700, 8200, 3100, 1190, 4000, 2300,
  2100, 3400, 1500, 5100, 2350, 980, 2800, 1800,
  2300, 3800, 1600, 5600, 2600, 1080, 3100, 1900,
  4200, 7000, 2500, 12100, 4600, 1750, 5600, 3300,
  4600, 7500, 2800, 11000, 5100, 1600, 6000, 3600,
  5600, 9000, 3400, 16200, 6200, 2600, 7500, 4500,
  14700, 26000, 8000, 39000, 16000, 5600, 20000, 11000,
  5600, 8500, 3600, 11000, 6200, 2150, 7000, 4500,
  3200, 4800, 2200, 6500, 3500, 1300, 4200, 2700,
  4600, 8000, 2600, 21700, 5100, 1750, 6500, 3500,
  4600, 9000, 2400, 29000, 5000, 1190, 6500, 3400,
  4600, 7500, 2800, 11000, 5100, 1750, 6200, 3600,
  8200, 14000, 5000, 19500, 9000, 3800, 11000, 6500,
  17900, 35000, 9000, 69000, 20000, 5600, 28000, 13000,
  10000, 16200, 6500, 20000, 11000, 3800, 13000, 8000,
  21000, 35000, 13000, 57000, 19500, 10000, 28000, 16000,
  6800, 14000, 3800, 32000, 7500, 2150, 10000, 5000,
  1930, 3100, 1300, 4600, 2150, 810, 2600, 1600,
  3800, 7000, 2300, 14700, 4200, 1190, 5500, 3000,
  7500, 13000, 4500, 16200, 8200, 2850, 10000, 6000,
  19500, 32000, 12000, 47000, 17900, 9100, 25000, 14700,
  3800, 6500, 2400, 8200, 4200, 1450, 5000, 3000,
  9000, 14700, 5600, 21700, 8200, 4200, 12000, 7000,
  19500, 32000, 11000, 43000, 16000, 7500, 25000, 14000,
  2300, 3800, 1450, 5100, 2600, 810, 3100, 1900,
  2800, 5500, 1600, 13400, 3100, 1190, 4000, 2200,
  1750, 2600, 1200, 3450, 1900, 890, 2200, 1450,
  2600, 4600, 1600, 8200, 2850, 1080, 3500, 2100,
  4200, 7000, 2600, 8200, 4600, 1080, 5500, 3300,
  5600, 8000, 3800, 10000, 6000, 2150, 7000, 4500,
  5100, 6800, 4200, 8200, 5600, 3450, 6200, 4600,
  1930, 3100, 1300, 3450, 2150, 890, 2600, 1600,
  2350, 4000, 1600, 8200, 2600, 1080, 3100, 1900,
  3400, 5600, 2300, 10000, 3800, 1450, 4600, 2800,
  5600, 10000, 3400, 21700, 6200, 2150, 8000, 4500,
  6800, 12000, 4000, 26000, 7500, 2350, 9500, 5000,
  2800, 4600, 1900, 10000, 3100, 1080, 3800, 2300,
  2350, 3400, 1700, 5100, 2600, 980, 3000, 1930,
  2600, 4600, 1600, 10000, 2850, 890, 3500, 2100,
  6000, 7500, 5100, 10000, 6200, 4600, 6800, 5600,
  2600, 4600, 1600, 10000, 2850, 1080, 3500, 2100,
];

// Panel c, epochs 2
const deltaC2 = [
  3300, 4000, 2700, 4800, 3000, 3600, 2400, 5600,
  3500, 4200, 2900, 5000, 3200, 3900, 2600, 4600,
  3700, 3100, 4400, 3400, 5200, 2800, 4000, 3300,
  3600, 4300, 3000, 5000, 3300, 3900, 2700, 4700,
  3500, 4100, 2900, 4900, 3200, 3800, 2600, 5500,
  3700, 3100, 4400, 3400, 5100, 2900, 4000, 3300,
  3600, 4200, 3000, 4800, 3300, 3900, 2700, 5300,
  3500, 4100, 2900, 4900, 3200, 3800, 2600, 4500,
  3700, 3100, 4300, 3400, 5000, 2800, 4000, 3300,
  3600, 4200, 3000, 4900, 3300, 3900, 2700, 5400,
  3500, 4100, 2800, 4800, 3200, 3800, 2500, 5600,
  4200, 3500, 5000, 3800, 6000, 3200, 4600, 3600,
  7500, 8800, 6300, 10000, 7000, 8200, 5800, 12000,
  6000, 7000, 5000, 8200, 5500, 6500, 4500, 9500,
  4600, 5400, 3900, 6300, 4200, 5000, 3600, 7200,
  4600, 5400, 3900, 6200, 4200, 5000, 3500, 7000,
  4200, 4900, 3600, 5700, 3900, 4500, 3300, 6500,
  4800, 5600, 4100, 6500, 4400, 5200, 3800, 7300,
  3800, 4400, 3200, 5100, 3500, 4100, 2900, 5800,
  3000, 3500, 2600, 4000, 2800, 3300, 2400, 4600,
  2800, 3300, 2400, 3800, 2600, 3000, 2200, 4300,
  3300, 3900, 2800, 4500, 3100, 3600, 2600, 5100,
  3700, 4300, 3100, 5000, 3400, 4000, 2800, 5700,
  3200, 3800, 2700, 4400, 2900, 3500, 2500, 5000,
  3800, 4500, 3200, 5200, 3500, 4100, 2900, 6000,
  4000, 4700, 3400, 5500, 3700, 4400, 3100, 6200,
  3600, 4200, 3000, 4900, 3300, 3900, 2700, 5500,
  4000, 4700, 3400, 5500, 3700, 4300, 3100, 6200,
  4200, 4900, 3600, 5800, 3900, 4500, 3200, 6600,
  3700, 4300, 3100, 5000, 3400, 4000, 2800, 5800,
  3000, 3500, 2600, 4100, 2800, 3300, 2400, 4600,
  2800, 3300, 2400, 3800, 2600, 3000, 2200, 4400,
  2700, 3200, 2300, 3700, 2500, 2900, 2100, 4200,
  2700, 3200, 2300, 3700, 2500, 2900, 2000, 4300,
  3200, 3700, 2700, 4300, 3000, 3500, 2400, 4900,
  3300, 3900, 2800, 4500, 3100, 3600, 2600, 5100,
  3400, 4000, 2900, 4600, 3200, 3700, 2700, 5300,
  3600, 4200, 3100, 4900, 3300, 3900, 2800, 5600,
  3800, 4400, 3200, 5200, 3500, 4100, 2900, 5900,
  3100, 3600, 2600, 4200, 2900, 3400, 2400, 4700,
  2100, 2400, 1800, 2700, 2000, 2250, 1700, 2500,
  9000, 10500, 7800, 12000, 8400, 9700, 7200, 13000,
  3800, 4500, 3200, 5300, 3500, 4100, 2900, 6000,
  3200, 3900, 2600, 4700, 2900, 3500, 2300, 5500,
  7500, 8600, 6600, 9800, 7000, 8000, 6200, 11000,
  6800, 7800, 5900, 9000, 6400, 7300, 5400, 10000,
  3200, 3900, 2600, 4700, 2900, 3500, 2300, 5500,
  5600, 6700, 4600, 8000, 5100, 6100, 4100, 9500,
  6000, 7300, 4900, 9000, 5500, 6600, 4300, 11000,
  10000, 11800, 8500, 14000, 9200, 10800, 7600, 16000,
  19500, 23000, 16500, 27000, 18000, 21000, 15000, 31000,
  23000, 28000, 19000, 34000, 21000, 25000, 17000, 40000,
  4200, 5100, 3500, 6200, 3800, 4600, 3200, 7400,
  12000, 14500, 10000, 17500, 11000, 13200, 9000, 21000,
  19500, 23500, 16000, 28000, 18000, 21500, 14500, 33000,
  23000, 27500, 19000, 33000, 21000, 25000, 17000, 38000,
  5600, 6800, 4600, 8300, 5100, 6200, 4100, 9800,
  11000, 13000, 9200, 16000, 10000, 12000, 8300, 19000,
  1750, 2000, 1550, 2300, 1650, 1850, 1450, 2600,
  4600, 5600, 3800, 6800, 4200, 5100, 3400, 8200,
  4200, 5100, 3500, 6100, 3800, 4600, 3200, 7200,
  6800, 8200, 5600, 10000, 6200, 7500, 5100, 12000,
  14700, 17500, 12300, 21000, 13500, 16000, 11200, 25000,
  4200, 5100, 3500, 6200, 3800, 4600, 3100, 7500,
  7500, 9000, 6200, 11000, 6800, 8200, 5600, 13500,
  21000, 25000, 17500, 30000, 19000, 23000, 16000, 36000,
  6800, 7900, 5900, 9200, 6400, 7300, 5500, 10500,
  3800, 4500, 3200, 5300, 3500, 4100, 2900, 6200,
  3400, 4100, 2800, 4900, 3100, 3700, 2600, 5800,
  4600, 5600, 3800, 6800, 4200, 5100, 3400, 8200,
  9000, 11000, 7400, 13500, 8200, 10000, 6700, 16500,
  26000, 31000, 22000, 37000, 24000, 28500, 20000, 44000,
  2800, 3400, 2300, 4100, 2600, 3100, 2100, 5000,
  2100, 2500, 1800, 2900, 1950, 2300, 1650, 3400,
  2300, 2800, 1900, 3300, 2150, 2550, 1750, 3900,
  4200, 5100, 3500, 6100, 3800, 4600, 3200, 7300,
  4600, 5500, 3800, 6600, 4200, 5000, 3400, 8000,
  5600, 6700, 4700, 8000, 5100, 6100, 4300, 9500,
  14700, 17800, 12100, 21500, 13400, 16200, 11000, 26000,
  5600, 6600, 4700, 7800, 5100, 6100, 4300, 9000,
  3200, 3800, 2700, 4400, 3000, 3500, 2500, 5100,
  4600, 5600, 3800, 6800, 4200, 5100, 3400, 8200,
  4600, 5600, 3800, 6900, 4200, 5100, 3400, 8400,
  4600, 5500, 3800, 6600, 4200, 5000, 3500, 7900,
  8200, 9800, 6900, 11800, 7500, 9000, 6300, 14000,
  17900, 21500, 14900, 26000, 16300, 19600, 13500, 31000,
  10000, 11800, 8500, 14000, 9200, 10800, 7800, 16500,
  21000, 25000, 17600, 30000, 19200, 23000, 16000, 36000,
  6800, 8200, 5600, 10000, 6200, 7500, 5100, 12000,
  1930, 2250, 1650, 2650, 1800, 2100, 1550, 3100,
  3800, 4600, 3100, 5600, 3500, 4200, 2900, 6800,
  7500, 8900, 6300, 10500, 6900, 8200, 5800, 12500,
  19500, 23000, 16500, 27500, 18000, 21000, 15000, 33000,
  3800, 4500, 3200, 5400, 3500, 4100, 2900, 6400,
  9000, 10700, 7600, 12800, 8300, 9800, 7000, 15000,
  19500, 23000, 16500, 27500, 18000, 21000, 15000, 33000,
  2300, 2750, 1950, 3300, 2150, 2500, 1800, 3900,
  2800, 3400, 2300, 4100, 2600, 3100, 2100, 5000,
  1750, 2050, 1500, 2400, 1650, 1900, 1400, 2800,
  2600, 3150, 2150, 3800, 2400, 2850, 2000, 4600,
  4200, 5000, 3500, 6000, 3900, 4600, 3200, 7000,
  5600, 6500, 4800, 7600, 5200, 6000, 4400, 8800,
  5100, 5700, 4600, 6300, 4900, 5400, 4300, 7000,
  1930, 2250, 1650, 2650, 1800, 2100, 1550, 3000,
  2350, 2800, 1950, 3350, 2200, 2600, 1800, 4000,
  3400, 4100, 2800, 4900, 3100, 3700, 2600, 5900,
  5600, 6800, 4600, 8200, 5100, 6200, 4200, 10000,
  6800, 8200, 5600, 10000, 6200, 7500, 5100, 12000,
  2800, 3400, 2300, 4100, 2600, 3100, 2100, 5000,
  2350, 2750, 2000, 3200, 2200, 2550, 1850, 3700,
  2600, 3150, 2150, 3800, 2400, 2850, 2000, 4600,
  6000, 6800, 5300, 7700, 5700, 6400, 5000, 8700,
  2600, 3150, 2150, 3800, 2400, 2850, 2000, 4600,
];

const panelLabels = ["a", "b", "c"];
const xTickHours = [14, 16, 18, 20, 22, 24, 26, 28, 30, 32];
const xTickLabels = ["14h", "16h", "18h", "20h", "22h", "00h", "02h", "04h", "06h", "08h"];
const yMajorTicks = [1000, 10000];
const yMajorLabels = ["10³", "10⁴"];
const yMinorTicks = [
  200, 300, 400, 500, 600, 700, 800, 900,
  2000, 3000, 4000, 5000, 6000, 7000, 8000, 9000,
  20000, 30000, 40000, 50000, 60000, 70000, 80000, 90000,
];

const TITLE = "Comparison of the resulting delta power using different methods";
const X_TITLE = "Time";
const Y_TITLE = "Delta power";

const X_MIN = 12.453;
const X_MAX = 33.114;
const Y_MIN = 168;
const Y_MAX = 92700;

const FONT = '"DejaVu Sans", sans-serif';
const FIG_CENTER_X = 548;

type PanelCfg = {
  series: number[][];
  label: string;
  top: number;
  height: number;
  padTop: number;
  xAxisHeight: number;
  showXLabels: boolean;
  title?: boolean;
  yTitle?: boolean;
  xTitle?: boolean;
};

const panels: PanelCfg[] = [
  { series: [deltaA1, deltaA2], label: panelLabels[0], top: 0, height: 280, padTop: 53, xAxisHeight: 9, showXLabels: false, title: true },
  { series: [deltaB1, deltaB2], label: panelLabels[1], top: 280, height: 249, padTop: 22, xAxisHeight: 9, showXLabels: false, yTitle: true },
  { series: [deltaC1, deltaC2], label: panelLabels[2], top: 529, height: 285, padTop: 22, xAxisHeight: 45, showXLabels: true, xTitle: true },
];

const framePlugin = {
  id: "frame",
  afterDraw(chart: any, _args: any, opts: any) {
    const ctx = chart.ctx as CanvasRenderingContext2D;
    const a = chart.chartArea;
    const xs = chart.scales.x;
    const ys = chart.scales.y;
    ctx.save();
    ctx.strokeStyle = "#000";
    ctx.lineWidth = 1;
    const L = Math.round(a.left) - 0.5;
    const T = Math.round(a.top) - 0.5;
    const B = Math.round(a.bottom) + 0.5;
    const R = a.right + 0.5;
    ctx.beginPath();
    ctx.moveTo(R, T);
    ctx.lineTo(L, T);
    ctx.lineTo(L, B);
    ctx.lineTo(R, B);
    ctx.lineTo(R, T);
    ctx.stroke();
    ctx.beginPath();
    for (const v of yMinorTicks) {
      const py = Math.round(ys.getPixelForValue(v)) + 0.5;
      if (py < a.top || py > a.bottom) continue;
      ctx.moveTo(L, py);
      ctx.lineTo(L - 3, py);
    }
    ctx.stroke();
    ctx.beginPath();
    for (const v of yMajorTicks) {
      const py = Math.round(ys.getPixelForValue(v)) + 0.5;
      ctx.moveTo(L, py);
      ctx.lineTo(L - 5, py);
    }
    ctx.stroke();
    ctx.beginPath();
    for (const h of xTickHours) {
      const px = Math.round(xs.getPixelForValue(h)) + 0.5;
      ctx.moveTo(px, B);
      ctx.lineTo(px, B + 5);
    }
    ctx.stroke();
    ctx.fillStyle = "#000";
    ctx.textAlign = "left";
    ctx.textBaseline = "alphabetic";
    ctx.font = `15px ${FONT}`;
    ctx.fillText(opts.label, a.left, a.top - 7);
    if (opts.title) {
      ctx.font = `bold 17.5px ${FONT}`;
      ctx.textAlign = "center";
      ctx.textBaseline = "middle";
      ctx.fillText(TITLE, FIG_CENTER_X, 18);
    }
    if (opts.xTitle) {
      ctx.font = `14.5px ${FONT}`;
      ctx.textAlign = "center";
      ctx.textBaseline = "middle";
      ctx.fillText(X_TITLE, FIG_CENTER_X, chart.height - 10);
    }
    if (opts.yTitle) {
      ctx.font = `14.5px ${FONT}`;
      ctx.textAlign = "center";
      ctx.textBaseline = "middle";
      ctx.translate(18, (a.top + a.bottom) / 2);
      ctx.rotate(-Math.PI / 2);
      ctx.fillText(Y_TITLE, 0, 0);
    }
    ctx.restore();
  },
};

function Panel({ cfg }: { cfg: PanelCfg }) {
  const ref = useRef<HTMLCanvasElement | null>(null);
  useEffect(() => {
    if (!ref.current) return;
    const datasets = cfg.series.map((values, s) => ({
      data: values.map((v, i) => ({
        x: START_HOUR + ((i + s * 0.5) * EPOCH_MINUTES) / 60,
        y: v,
      })),
      pointRadius: 1.35,
      pointHoverRadius: 1.35,
      pointBackgroundColor: "#000",
      pointBorderWidth: 0,
      borderWidth: 0,
    }));
    const chart = new Chart(ref.current, {
      type: "scatter",
      data: { datasets },
      options: {
        animation: false,
        responsive: false,
        devicePixelRatio: 1,
        events: [],
        layout: { padding: { top: cfg.padTop, left: 0, right: 7, bottom: 0 } },
        plugins: {
          legend: { display: false },
          tooltip: { enabled: false },
          title: { display: false },
          frame: {
            label: cfg.label,
            title: !!cfg.title,
            xTitle: !!cfg.xTitle,
            yTitle: !!cfg.yTitle,
          },
        } as any,
        scales: {
          x: {
            type: "linear",
            min: X_MIN,
            max: X_MAX,
            grid: { display: false, drawTicks: false },
            border: { display: false },
            afterBuildTicks: (axis: any) => {
              axis.ticks = xTickHours.map((v) => ({ value: v }));
            },
            afterFit: (axis: any) => {
              axis.height = cfg.xAxisHeight;
            },
            ticks: {
              display: cfg.showXLabels,
              autoSkip: false,
              maxRotation: 0,
              padding: 7,
              color: "#000",
              font: { family: FONT, size: 12.5 },
              callback: (value: any) => {
                const idx = xTickHours.indexOf(Number(value));
                return idx >= 0 ? xTickLabels[idx] : "";
              },
            },
          },
          y: {
            type: "logarithmic",
            min: Y_MIN,
            max: Y_MAX,
            grid: { display: false, drawTicks: false },
            border: { display: false },
            afterBuildTicks: (axis: any) => {
              axis.ticks = yMajorTicks.map((v) => ({ value: v }));
            },
            afterFit: (axis: any) => {
              axis.width = 64;
            },
            ticks: {
              autoSkip: false,
              padding: 7,
              color: "#000",
              font: { family: FONT, size: 13 },
              callback: (value: any) => {
                const idx = yMajorTicks.indexOf(Number(value));
                return idx >= 0 ? yMajorLabels[idx] : "";
              },
            },
          },
        },
      },
      plugins: [framePlugin],
    });
    return () => chart.destroy();
  }, [cfg]);
  return (
    <canvas
      ref={ref}
      width={1090}
      height={cfg.height}
      style={{ position: "absolute", left: 0, top: cfg.top, width: 1090, height: cfg.height }}
    />
  );
}

export default function App() {
  return (
    <div
      style={{
        position: "absolute",
        left: 0,
        top: 0,
        width: 1075,
        height: 814,
        overflow: "hidden",
        background: "#fff",
      }}
    >
      {panels.map((p) => (
        <Panel key={p.label} cfg={p} />
      ))}
    </div>
  );
}
